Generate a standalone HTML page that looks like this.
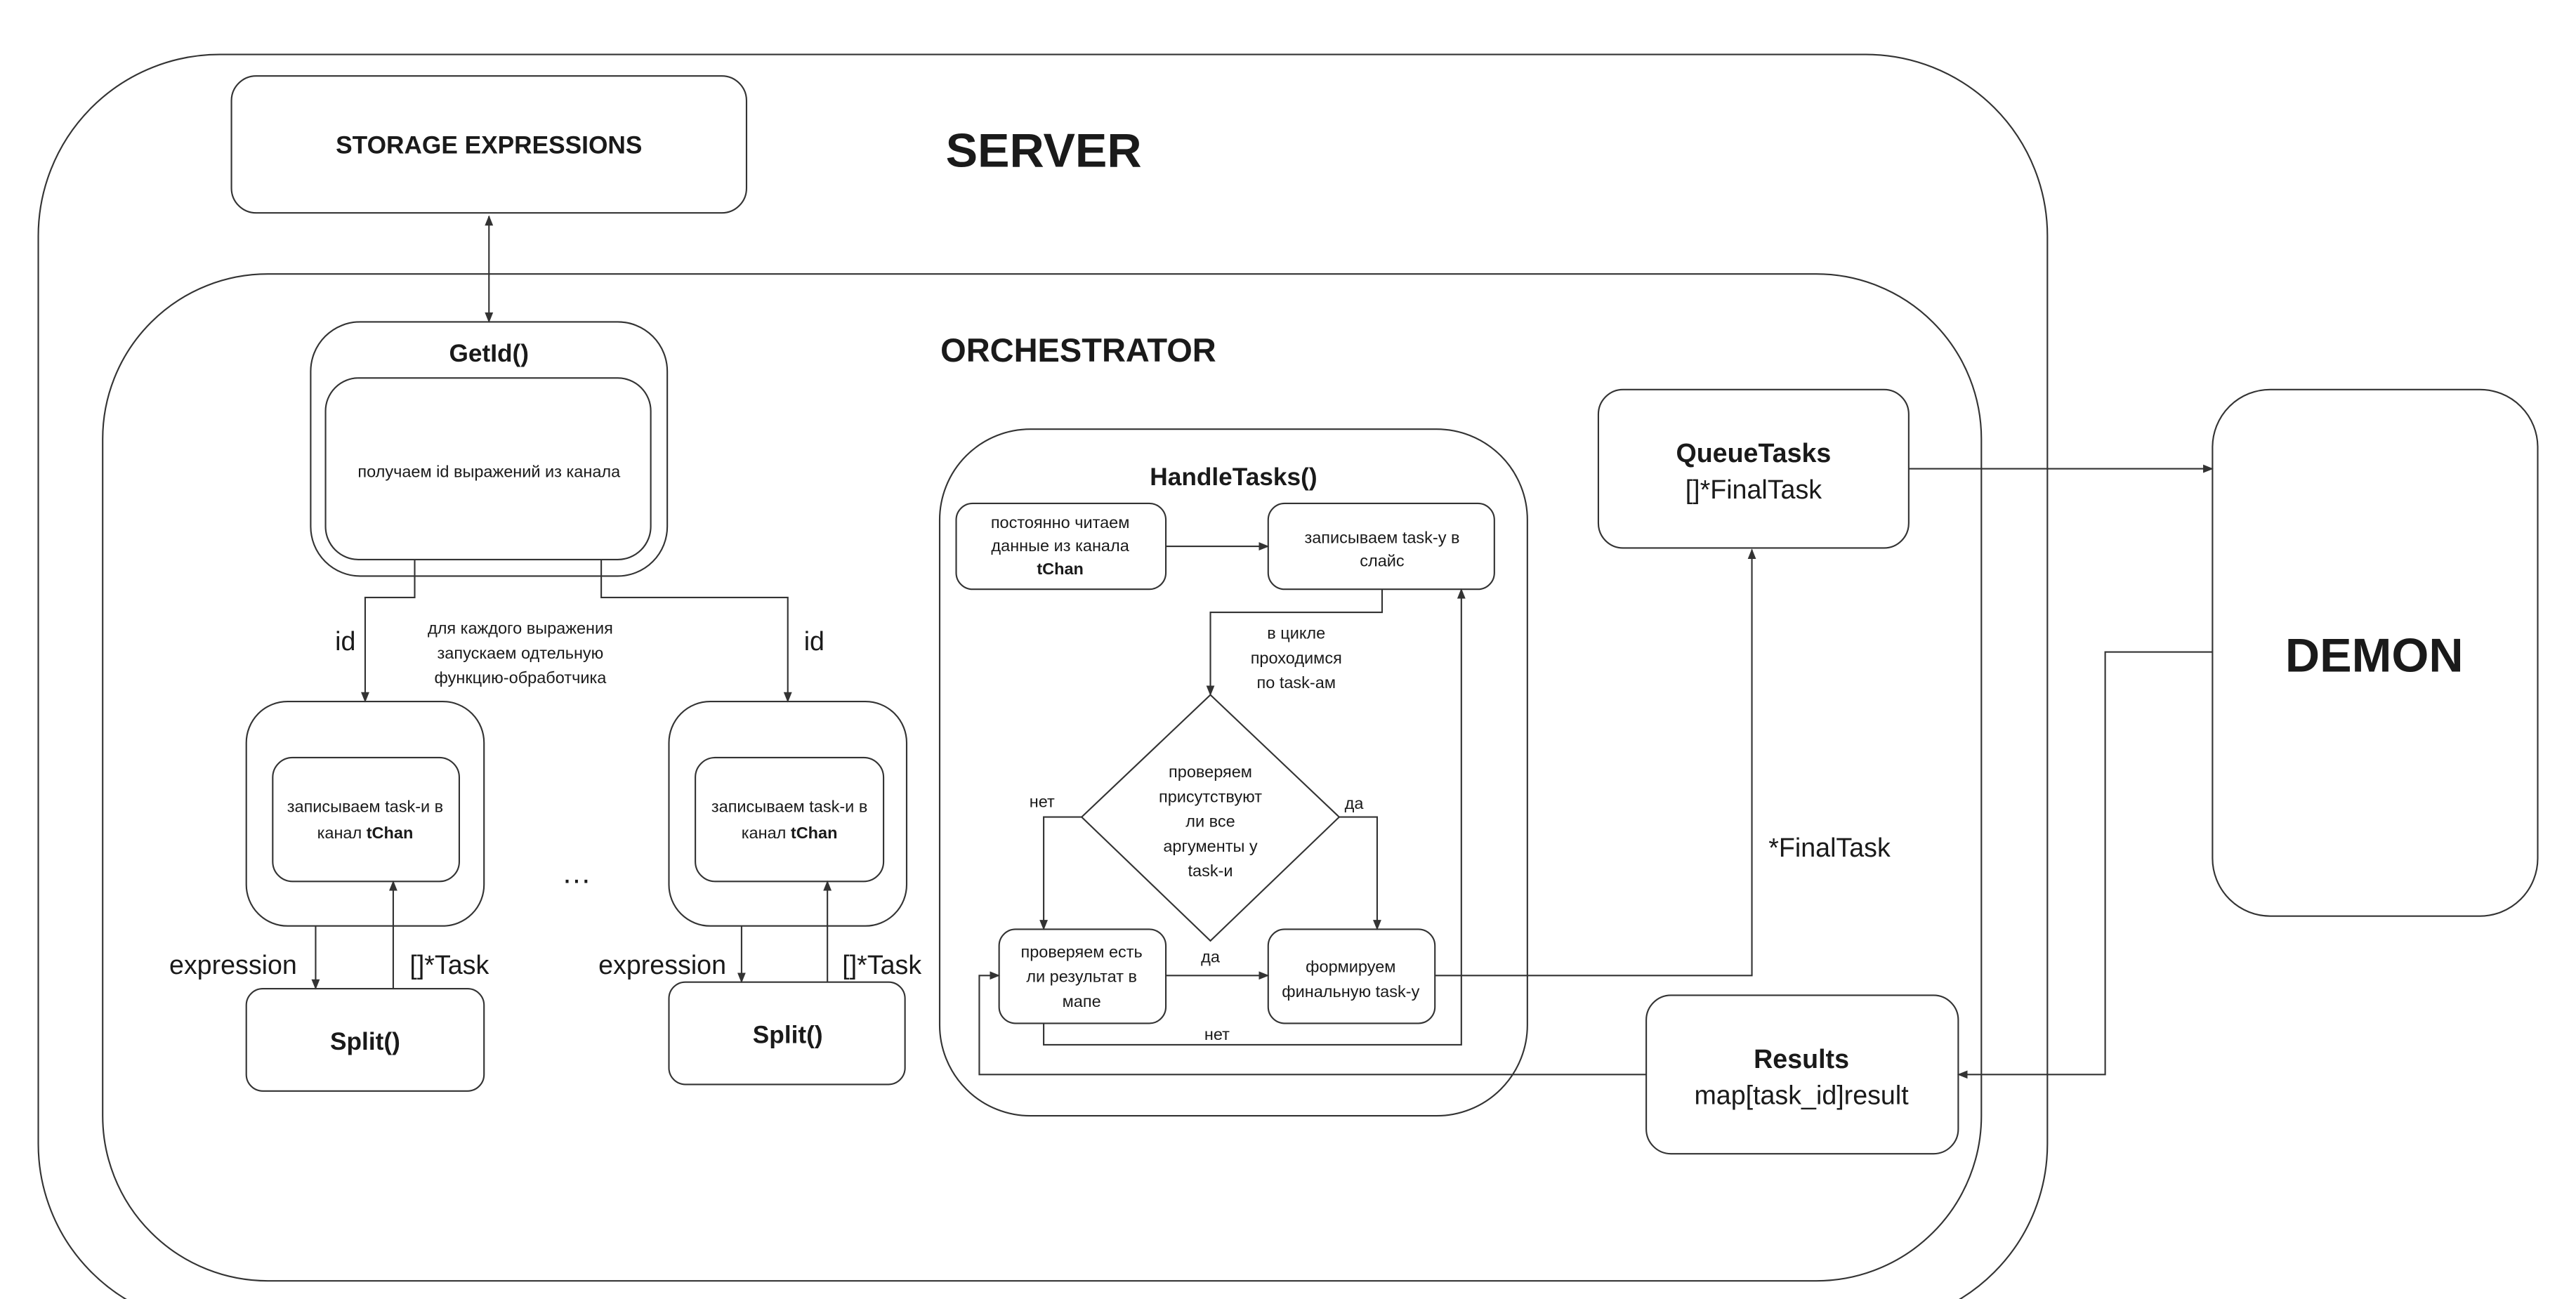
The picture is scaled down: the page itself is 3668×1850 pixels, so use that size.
<!DOCTYPE html>
<html><head><meta charset="utf-8"><style>html,body{margin:0;padding:0;background:#fff}svg{display:block}</style></head>
<body>
<svg width="3668" height="1850" viewBox="0 0 1560 787" xmlns="http://www.w3.org/2000/svg" font-family="'Liberation Sans', sans-serif" fill="none" stroke="#333" stroke-width="0.9">
<defs>
<marker id="a" viewBox="0 0 10 10" refX="9" refY="5" markerWidth="7" markerHeight="7" orient="auto-start-reverse"><path d="M0,1 L10,5 L0,9 z" fill="#333" stroke="none"/></marker>
</defs>
<rect x="23" y="33" width="1217" height="770" rx="110"/>
<rect x="62" y="166" width="1138" height="610" rx="100"/>
<rect x="140" y="46" width="312" height="83" rx="15"/>
<rect x="188" y="195" width="216" height="154" rx="30"/>
<rect x="197" y="229" width="197" height="110" rx="20"/>
<rect x="149" y="425" width="144" height="136" rx="25"/>
<rect x="165" y="459" width="113" height="75" rx="12"/>
<rect x="405" y="425" width="144" height="136" rx="25"/>
<rect x="421" y="459" width="114" height="75" rx="12"/>
<rect x="149" y="599" width="144" height="62" rx="10"/>
<rect x="405" y="595" width="143" height="62" rx="10"/>
<rect x="569" y="260" width="356" height="416" rx="55"/>
<rect x="579" y="305" width="127" height="52" rx="10"/>
<rect x="768" y="305" width="137" height="52" rx="10"/>
<path d="M733,421 L811,495 L733,570 L655,495 Z"/>
<rect x="605" y="563" width="101" height="57" rx="10"/>
<rect x="768" y="563" width="101" height="57" rx="10"/>
<rect x="968" y="236" width="188" height="96" rx="15"/>
<rect x="1340" y="236" width="197" height="319" rx="35"/>
<rect x="997" y="603" width="189" height="96" rx="15"/>
<g marker-end="url(#a)">
<path d="M296,131 V195" marker-start="url(#a)"/>
<path d="M251,339 V362 H221 V425"/>
<path d="M364,339 V362 H477 V425"/>
<path d="M191,561 V599"/>
<path d="M238,599 V534"/>
<path d="M449,561 V595"/>
<path d="M501,595 V534"/>
<path d="M706,331 H768"/>
<path d="M837,357 V371 H733 V421"/>
<path d="M655,495 H632 V563"/>
<path d="M811,495 H834 V563"/>
<path d="M706,591 H768"/>
<path d="M632,620 V633 H885 V357"/>
<path d="M869,591 H1061 V333"/>
<path d="M1156,284 H1340"/>
<path d="M1340,395 H1275 V651 H1186"/>
<path d="M997,651 H593 V591 H605"/>
</g>
<g fill="#1a1a1a" stroke="none" text-anchor="middle">
<text x="296" y="93" font-size="15" font-weight="bold">STORAGE EXPRESSIONS</text>
<text x="632" y="101" font-size="29" font-weight="bold">SERVER</text>
<text x="653" y="219" font-size="20" font-weight="bold">ORCHESTRATOR</text>
<text x="296" y="219" font-size="15" font-weight="bold">GetId()</text>
<text x="296" y="289" font-size="10">получаем id выражений из канала</text>
<text x="209" y="394" font-size="16">id</text>
<text x="493" y="394" font-size="16">id</text>
<text x="315" y="384" font-size="10">для каждого выражения</text>
<text x="315" y="399" font-size="10">запускаем одтельную</text>
<text x="315" y="414" font-size="10">функцию-обработчика</text>
<text x="221" y="492" font-size="10">записываем task-и в</text>
<text x="221" y="508" font-size="10">канал <tspan font-weight="bold">tChan</tspan></text>
<text x="478" y="492" font-size="10">записываем task-и в</text>
<text x="478" y="508" font-size="10">канал <tspan font-weight="bold">tChan</tspan></text>
<text x="349" y="535" font-size="18">…</text>
<text x="221" y="636" font-size="15" font-weight="bold">Split()</text>
<text x="477" y="632" font-size="15" font-weight="bold">Split()</text>
<text x="141" y="590" font-size="16">expression</text>
<text x="272" y="590" font-size="16">[]*Task</text>
<text x="401" y="590" font-size="16">expression</text>
<text x="534" y="590" font-size="16">[]*Task</text>
<text x="747" y="294" font-size="15" font-weight="bold">HandleTasks()</text>
<text x="642" y="320" font-size="10">постоянно читаем</text>
<text x="642" y="334" font-size="10">данные из канала</text>
<text x="642" y="348" font-size="10" font-weight="bold">tChan</text>
<text x="837" y="329" font-size="10">записываем task-у в</text>
<text x="837" y="343" font-size="10">слайс</text>
<text x="785" y="387" font-size="10">в цикле</text>
<text x="785" y="402" font-size="10">проходимся</text>
<text x="785" y="417" font-size="10">по task-ам</text>
<text x="733" y="471" font-size="10">проверяем</text>
<text x="733" y="486" font-size="10">присутствуют</text>
<text x="733" y="501" font-size="10">ли все</text>
<text x="733" y="516" font-size="10">аргументы у</text>
<text x="733" y="531" font-size="10">task-и</text>
<text x="631" y="489" font-size="10">нет</text>
<text x="820" y="490" font-size="10">да</text>
<text x="655" y="580" font-size="10">проверяем есть</text>
<text x="655" y="595" font-size="10">ли результат в</text>
<text x="655" y="610" font-size="10">мапе</text>
<text x="818" y="589" font-size="10">формируем</text>
<text x="818" y="604" font-size="10">финальную task-у</text>
<text x="733" y="583" font-size="10">да</text>
<text x="737" y="630" font-size="10">нет</text>
<text x="1108" y="519" font-size="16">*FinalTask</text>
<text x="1062" y="280" font-size="16" font-weight="bold">QueueTasks</text>
<text x="1062" y="302" font-size="16">[]*FinalTask</text>
<text x="1438" y="407" font-size="29" font-weight="bold">DEMON</text>
<text x="1091" y="647" font-size="16" font-weight="bold">Results</text>
<text x="1091" y="669" font-size="16">map[task_id]result</text>
</g>
</svg>
</body></html>
